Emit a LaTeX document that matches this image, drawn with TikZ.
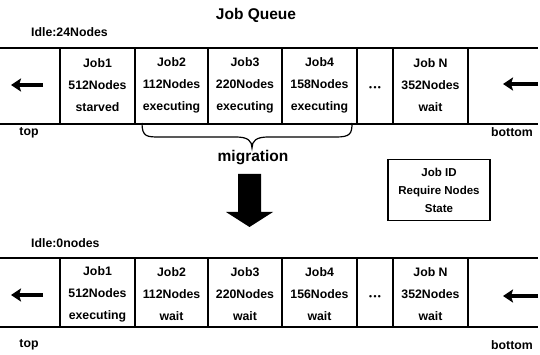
\documentclass[tikz,border=0pt]{standalone}
\usepackage{fontspec}
\setmainfont{Liberation Sans}
\usetikzlibrary{arrows.meta}
\begin{document}
\begin{tikzpicture}[x=1pt,y=-1pt,
  lbl/.style={font=\bfseries\fontsize{12.3}{13}\selectfont, inner sep=0pt},
  cell/.style={font=\bfseries\fontsize{12.3}{22}\selectfont, align=center, inner sep=0pt},
  dots/.style={font=\bfseries\fontsize{8.5}{8.5}\selectfont, inner sep=0pt},
  title/.style={font=\bfseries\fontsize{15.5}{17}\selectfont, inner sep=0pt},
  rail/.style={line width=1.5pt},
  wall/.style={line width=1.2pt},
  flow/.style={line width=3.2pt, -{Stealth[length=10pt,width=13pt,inset=2pt]}}]
\useasboundingbox (0,0) rectangle (540,355);

% heading
\node[title] (heading) at (256,15) {Job Queue};

% ---------- queue before migration ----------
\node[lbl, anchor=west] (idleA) at (31,32) {Idle:24Nodes};
\coordinate (aTL) at (0,48);  \coordinate (aTR) at (538,48);
\coordinate (aBL) at (0,124); \coordinate (aBR) at (538,124);
\draw[rail] (aTL) -- (aTR);
\draw[rail] (aBL) -- (aBR);
\foreach \x in {60,135,208,282,357,393,468}
  \draw[wall] (\x,48) -- (\x,124);
\node[cell] (a1) at (97.5,85) {Job1\\512Nodes\\starved};
\node[cell] (a2) at (171.5,85) {Job2\\112Nodes\\executing};
\node[cell] (a3) at (245,85) {Job3\\220Nodes\\executing};
\node[cell] (a4) at (319.5,85) {Job4\\158Nodes\\executing};
\node[dots] (adots) at (375,88) {•\,•\,•};
\node[cell] (aN) at (430.5,85) {Job N\\352Nodes\\wait};
\coordinate (aLin) at (43,85);  \coordinate (aLout) at (11,85);
\coordinate (aRin) at (538,84); \coordinate (aRout) at (503,84);
\draw[flow] (aLin) -- (aLout);
\draw[flow] (aRin) -- (aRout);
\node[lbl] (topA) at (29,133) {top};
\node[lbl] (botA) at (512,132) {bottom};

% brace under the executing jobs
\draw[line width=1.2pt] (142,123) .. controls (142,137) and (147,137) .. (160,137)
  -- (236,137) .. controls (248,137) and (252,141) .. (252,148)
  .. controls (252,141) and (256,137) .. (268,137)
  -- (336,137) .. controls (350,137) and (352,134) .. (352,123);
\node[title] (mig) at (253,158) {migration};

% big down arrow
\fill (238,174) -- (261,174) -- (261,212) -- (273,212) -- (249.5,227)
  -- (226,212) -- (238,212) -- cycle;

% legend box
\node[cell, draw, line width=1.1pt, minimum width=102pt, minimum height=61pt,
  font=\bfseries\fontsize{11.5}{18}\selectfont] (legend) at (439,190)
  {Job ID\\Require Nodes\\State};

% ---------- queue after migration ----------
\node[lbl, anchor=west] (idleB) at (31,243) {Idle:0nodes};
\coordinate (bTL) at (0,258);  \coordinate (bTR) at (538,258);
\coordinate (bBL) at (0,327);  \coordinate (bBR) at (538,327);
\draw[rail] (bTL) -- (bTR);
\draw[rail] (bBL) -- (bBR);
\foreach \x in {60,135,208,282,357,393,468}
  \draw[wall] (\x,258) -- (\x,327);
\node[cell] (b1) at (97.5,294) {Job1\\512Nodes\\executing};
\node[cell] (b2) at (171.5,294) {Job2\\112Nodes\\wait};
\node[cell] (b3) at (245,294) {Job3\\220Nodes\\wait};
\node[cell] (b4) at (319.5,294) {Job4\\156Nodes\\wait};
\node[dots] (bdots) at (375,297) {•\,•\,•};
\node[cell] (bN) at (430.5,294) {Job N\\352Nodes\\wait};
\coordinate (bLin) at (43,295);  \coordinate (bLout) at (11,295);
\coordinate (bRin) at (538,296); \coordinate (bRout) at (503,296);
\draw[flow] (bLin) -- (bLout);
\draw[flow] (bRin) -- (bRout);
\node[lbl] (topB) at (29,345) {top};
\node[lbl] (botB) at (512,345) {bottom};
\end{tikzpicture}
\end{document}
